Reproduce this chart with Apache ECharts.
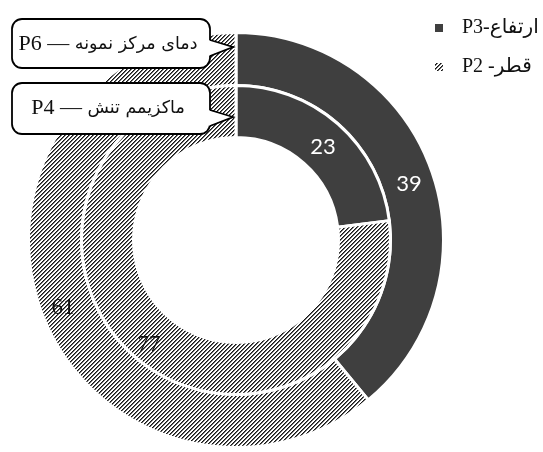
<!DOCTYPE html>
<html>
<head>
<meta charset="utf-8">
<script src="https://cdn.jsdelivr.net/npm/echarts@6/dist/echarts.min.js"></script>
<style>
html,body{margin:0;padding:0;background:#fff;}
#c{width:543px;height:452px;}
</style>
</head>
<body>
<div id="c"></div>
<script>
// ---- data ----
const categories = ['P3-ارتفاع', 'P2 -قطر'];
const ringCodes = ['P6', 'P4'];
const ringTitles = ['دمای مرکز نمونه', 'ماکزیمم تنش'];
const outerValues = [39, 61];
const innerValues = [23, 77];

// ---- styles ----
const SERIF = "'Liberation Serif', 'DejaVu Sans', serif";
const ARAB = "'DejaVu Sans', sans-serif";
const DARK = '#3f3f3f';

function makeHatch() {
  const c = document.createElement('canvas');
  c.width = 4; c.height = 4;
  const ctx = c.getContext('2d');
  ctx.fillStyle = '#ffffff';
  ctx.fillRect(0, 0, 4, 4);
  for (let i = 0; i < 4; i++) {
    ctx.fillStyle = '#161616';
    ctx.fillRect(3 - i, i, 1, 1);
    ctx.fillStyle = '#6a6a6a';
    ctx.fillRect((4 - i) % 4, i, 1, 1);
  }
  return c;
}
const hatch = { image: makeHatch(), repeat: 'repeat' };

const sliceColors = [DARK, hatch];
const labelStyles = [
  { color: '#ffffff', fontFamily: 'Lato, sans-serif', fontSize: 22 },
  { color: '#111111', fontFamily: SERIF, fontSize: 23 }
];

function buildData(values) {
  return values.map((v, i) => ({
    name: categories[i],
    value: v,
    itemStyle: { color: sliceColors[i] },
    label: labelStyles[i]
  }));
}

const center = [236, 240];
const bw = 3;

function pieSeries(name, values, radius) {
  return {
    type: 'pie',
    name: name,
    center: center,
    radius: radius,
    startAngle: 90,
    clockwise: true,
    avoidLabelOverlap: false,
    emphasis: { disabled: true },
    itemStyle: { borderColor: '#ffffff', borderWidth: bw },
    label: { show: true, position: 'inside', formatter: '{c}' },
    labelLayout: { dy: 6 },
    labelLine: { show: false },
    data: buildData(values)
  };
}

function callout(y, h, tipY, code, title, textY) {
  const x = 12, w = 198;
  const top = tipY - 7, bot = tipY + 9;
  return {
    type: 'group',
    children: [
      { type: 'rect', z: 100, shape: { x: x, y: y, width: w, height: h, r: 10 },
        style: { fill: '#fff', stroke: '#000', lineWidth: 1.8 } },
      { type: 'polygon', z: 101, shape: { points: [[x + w - 1.5, top], [233, tipY], [x + w - 1.5, bot]] },
        style: { fill: '#fff', stroke: null } },
      { type: 'polyline', z: 102, shape: { points: [[x + w, top], [233, tipY], [x + w, bot]] },
        style: { fill: null, stroke: '#000', lineWidth: 1.8 } },
      { type: 'text', z: 103, x: x + w / 2 - 3, y: textY,
        style: {
          text: '{l|' + code + ' — }{a|' + title + '}',
          align: 'center', verticalAlign: 'middle',
          rich: {
            l: { font: '22px ' + SERIF, fill: '#111' },
            a: { font: '17.5px ' + ARAB, fill: '#111' }
          }
        } }
    ]
  };
}

const chart = echarts.init(document.getElementById('c'), null, { renderer: 'canvas' });
chart.setOption({
  animation: false,
  backgroundColor: '#ffffff',
  legend: {
    orient: 'vertical',
    left: 428,
    top: 13,
    itemWidth: 10,
    itemHeight: 10,
    itemGap: 19,
    icon: 'rect',
    selectedMode: false,
    data: categories,
    textStyle: { fontFamily: SERIF, fontSize: 20, color: '#111', padding: [0, 0, 0, 13] }
  },
  series: [
    pieSeries(ringCodes[0] + ' — ' + ringTitles[0], outerValues, [154.5, 207.5]),
    pieSeries(ringCodes[1] + ' — ' + ringTitles[1], innerValues, [102.5, 154.5])
  ],
  graphic: [
    callout(19, 49, 47, ringCodes[0], ringTitles[0], 44),
    callout(83, 51, 117, ringCodes[1], ringTitles[1], 108)
  ]
});
</script>
</body>
</html>
